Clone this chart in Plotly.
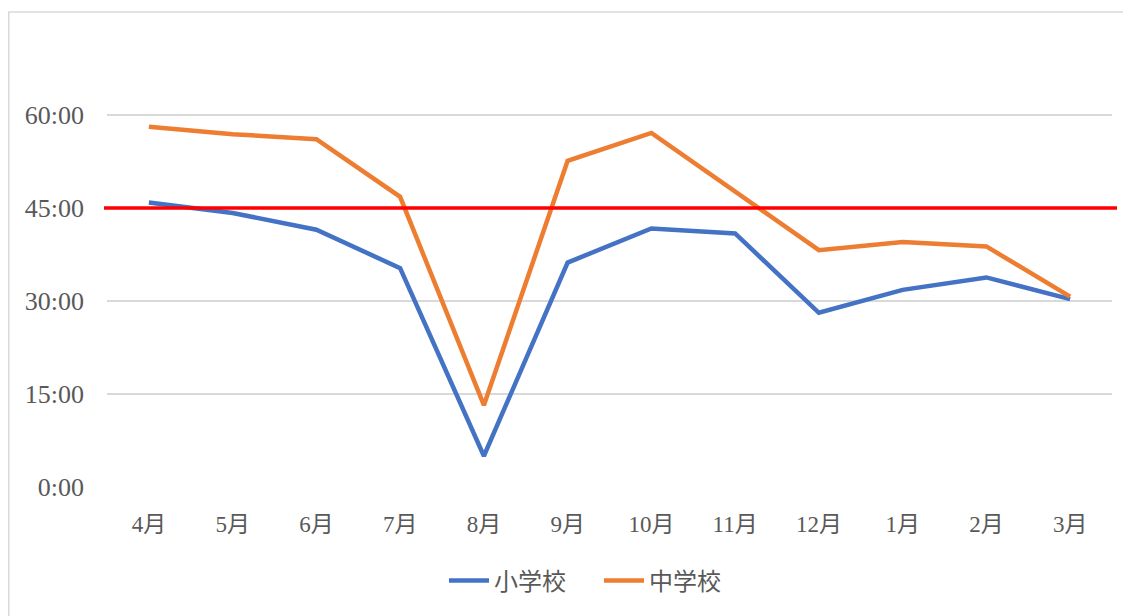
import plotly.graph_objects as go

months = ["4月", "5月", "6月", "7月", "8月", "9月", "10月", "11月", "12月", "1月", "2月", "3月"]
# minutes
elementary = [45.9, 44.2, 41.5, 35.3, 5.0, 36.2, 41.7, 40.9, 28.1, 31.8, 33.8, 30.3]
junior_high = [58.1, 56.9, 56.1, 46.8, 13.2, 52.6, 57.1, 47.7, 38.2, 39.5, 38.8, 30.7]
target = 45
y_tickvals = [0, 15, 30, 45, 60]
y_ticktext = ["0:00", "15:00", "30:00", "45:00", "60:00"]

W, H = 1131, 616
OFF = 8  # page body margin
L, R, T, B = 107, 19, 41, 129
pw, ph = W - L - R, H - T - B

def px_x(px):
    return (px - L) / pw

def px_y(py):
    return (H - B - py) / ph

font_family = "Liberation Serif, Noto Sans CJK JP, serif"
grey = "#595959"

fig = go.Figure()
fig.add_trace(go.Scatter(x=months, y=elementary, mode="lines", name="小学校",
                         line=dict(color="#4472C4", width=4.5)))
fig.add_trace(go.Scatter(x=months, y=junior_high, mode="lines", name="中学校",
                         line=dict(color="#ED7D31", width=4.5)))

fig.add_shape(type="line", xref="paper", yref="y",
              x0=px_x(104), x1=px_x(1117), y0=target, y1=target,
              line=dict(color="#FF0000", width=3.5), layer="above")

# chart frame
fig.add_shape(type="rect", xref="paper", yref="paper",
              x0=px_x(8.8), x1=px_x(1145), y0=px_y(630), y1=px_y(12),
              line=dict(color="#d9d9d9", width=1.5), layer="below")

fig.update_layout(
    width=W, height=H,
    margin=dict(l=L - OFF, r=R + OFF, t=T - OFF, b=B + OFF),
    paper_bgcolor="white", plot_bgcolor="white",
    font=dict(family=font_family, color=grey, size=24),
    showlegend=True,
    legend=dict(orientation="h", x=px_x(444), xanchor="left",
                y=px_y(581), yanchor="middle",
                font=dict(size=24, color=grey, family=font_family),
                itemwidth=40, entrywidth=100),
    xaxis=dict(type="category", range=[-0.5, 11.5], showgrid=False,
               showline=False, zeroline=False, ticks="",
               tickfont=dict(size=23, color=grey, family=font_family),
               ticklabelstandoff=21),
    yaxis=dict(range=[0, ph / 6.2], tickvals=y_tickvals, ticktext=y_ticktext,
               showgrid=True, gridcolor="#d9d9d9", gridwidth=1.5,
               zeroline=False, showline=False, ticks="",
               tickfont=dict(size=26, color=grey, family=font_family),
               ticklabelstandoff=22),
)

fig.write_html("out.html")
